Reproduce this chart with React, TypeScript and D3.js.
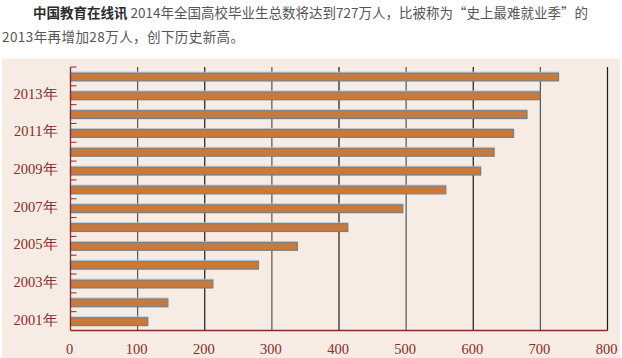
import React from "react";
import * as d3 from "d3";

const years = ["2001", "2002", "2003", "2004", "2005", "2006", "2007", "2008", "2009", "2010", "2011", "2012", "2013", "2014"];
const graduates = [115, 145, 212, 280, 338, 413, 495, 559, 611, 631, 660, 680, 699, 727];
const xTicks = [0, 100, 200, 300, 400, 500, 600, 700, 800];
const labeledYears = ["2001", "2003", "2005", "2007", "2009", "2011", "2013"];

const W = 622;
const H = 358;
const left = 70.5;
const right = 607.5;
const top = 67;
const bottom = 330.5;

export default function App() {
  const x = d3.scaleLinear().domain([0, 800]).range([left, right]);
  const y = d3
    .scaleBand<string>()
    .domain([...years].reverse())
    .range([top, bottom])
    .paddingInner(0.58)
    .paddingOuter(0.29);
  const step = y.step();
  const bw = y.bandwidth();
  const maroon = "#8a2a2a";
  const boundaries = d3.range(years.length).map((i) => top + i * step);

  return (
    <svg width={W} height={H} style={{ position: "absolute", left: 0, top: 0 }}>
      <rect x={0} y={0} width={W} height={H} fill="#ffffff" />
      <text x={33} y={18} fontFamily="'Noto Sans CJK SC', sans-serif" fontSize={13.5} fill="#333">
        <tspan fontWeight="bold" fill="#2b2b2b">中国教育在线讯</tspan>
        <tspan fill="#555"> 2014年全国高校毕业生总数将达到727万人，比被称为“史上最难就业季”的</tspan>
      </text>
      <text x={2} y={42} fontFamily="'Noto Sans CJK SC', sans-serif" fontSize={13.5} fill="#555" textLength={242} lengthAdjust="spacing">
        2013年再增加28万人，创下历史新高。
      </text>
      <rect x={2} y={58.5} width={618} height={H - 58.5} fill="#f6ece3" />
      {xTicks.slice(1).map((t) => (
        <line key={"g" + t} x1={x(t)} x2={x(t)} y1={top} y2={bottom} stroke={t % 200 === 0 ? "#1a1a1a" : "#555"} strokeWidth={1.2} />
      ))}
      {years.map((yr, i) => (
        <g key={yr}>
          <rect x={x(0)} y={y(yr)! + 0.5} width={x(graduates[i]) - x(0)} height={bw} fill="#c97a3a" stroke="#7b7f86" strokeWidth={1.3} />
          <line x1={x(0)} x2={x(graduates[i])} y1={y(yr)! - 0.4} y2={y(yr)! - 0.4} stroke="#a9c6e0" strokeWidth={0.8} />
        </g>
      ))}
      {boundaries.map((b, i) => (
        <line key={"t" + i} x1={left} x2={left + 6} y1={b} y2={b} stroke={maroon} strokeWidth={1} />
      ))}
      <line x1={left} x2={left} y1={top} y2={bottom} stroke={maroon} strokeWidth={1.3} />
      <line x1={left} x2={right} y1={bottom} y2={bottom} stroke={maroon} strokeWidth={1.3} />
      {labeledYears.map((yr) => (
        <text key={"l" + yr} x={57.5} y={y(yr)! + bw / 2 + 3.5} textAnchor="end" fontFamily="'Liberation Serif', serif" fontSize={14.5} fill={maroon}>
          {yr}年
        </text>
      ))}
      {xTicks.map((t) => (
        <text key={"x" + t} x={x(t) - 1} y={354} textAnchor="middle" fontFamily="'Liberation Serif', serif" fontSize={14.5} fill={maroon}>
          {t}
        </text>
      ))}
    </svg>
  );
}
